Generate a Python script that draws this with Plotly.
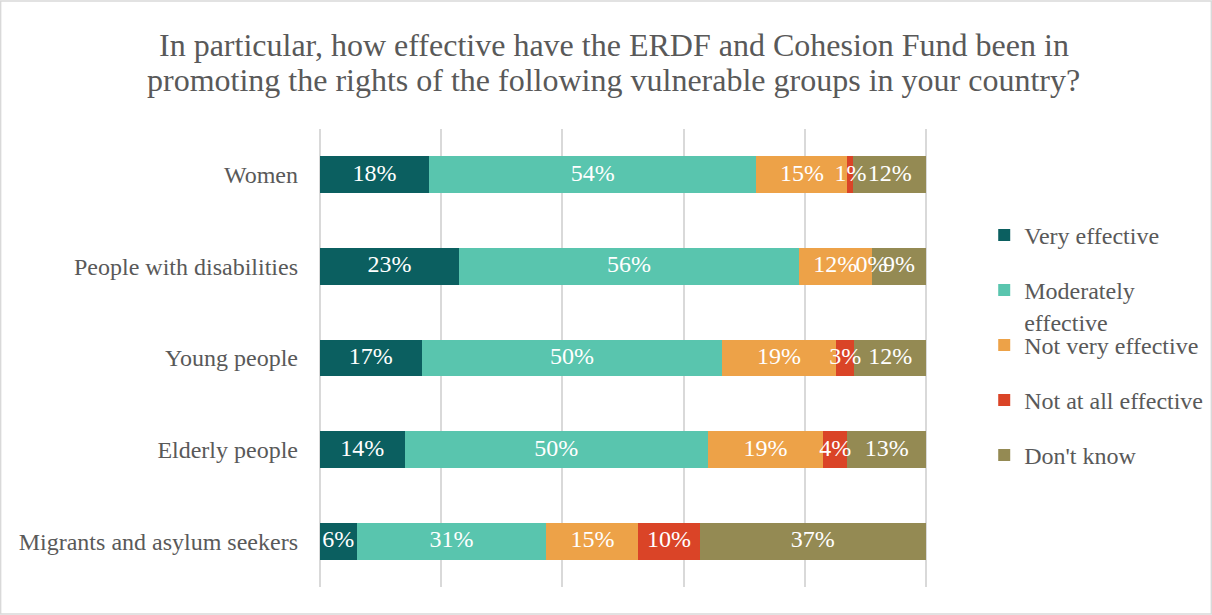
import plotly.graph_objects as go

groups = ["Women", "People with disabilities", "Young people",
          "Elderly people", "Migrants and asylum seekers"]

very_effective = [18, 23, 17, 14, 6]
moderately_effective = [54, 56, 50, 50, 31]
not_very_effective = [15, 12, 19, 19, 15]
not_at_all_effective = [1, 0, 3, 4, 10]
dont_know = [12, 9, 12, 13, 37]

series = [
    ("Very effective", very_effective, "#0B5F60"),
    ("Moderately<br>effective", moderately_effective, "#59C5AE"),
    ("Not very effective", not_very_effective, "#EDA248"),
    ("Not at all effective", not_at_all_effective, "#DA4427"),
    ("Don't know", dont_know, "#948A53"),
]

FONT = "Liberation Serif, Times New Roman, serif"
GREY = "#595959"
FS = 24

# pixel layout of the reference (plot area 320..926 maps 0..100 %)
W, H = 1212, 615
PAD = 0.3
x0px, x1px = 320, 926
upx = (x1px - x0px) / 100
L = x0px - PAD * upx
R = W - (x1px + PAD * upx)
T, B = 129, 28
pw, ph = W - L - R, H - T - B

def px_x(p):
    return (p - L) / pw

def px_y(p):
    return (H - B - p) / ph

legend_tops = [213, 268, 323, 378, 433]

fig = go.Figure()
for i, (name, vals, col) in enumerate(series):
    lg = "legend" if i == 0 else f"legend{i + 1}"
    fig.add_trace(go.Bar(
        y=groups, x=vals, name=name, orientation="h",
        marker=dict(color=col, line=dict(width=0)),
        hoverinfo="x+y", legend=lg,
    ))

# labels drawn on top of all bars, centred on each (normalised) segment
totals = [sum(s[1][j] for s in series) for j in range(len(groups))]
lab_x, lab_y, lab_t = [], [], []
for j, g in enumerate(groups):
    cum = 0.0
    for name, vals, col in series:
        v = vals[j] * 100 / totals[j]
        lab_x.append(cum + v / 2)
        lab_y.append(g)
        lab_t.append(f"{vals[j]}%")
        cum += v
fig.add_trace(go.Scatter(
    x=lab_x, y=lab_y, text=lab_t, mode="text", showlegend=False,
    hoverinfo="skip", cliponaxis=False,
    textfont=dict(family=FONT, size=FS, color="white"),
))

layout_legends = {}
for i, top in enumerate(legend_tops):
    key = "legend" if i == 0 else f"legend{i + 1}"
    layout_legends[key] = dict(
        x=px_x(984), y=px_y(top), xanchor="left", yanchor="top",
        bgcolor="rgba(0,0,0,0)", valign="top",
        font=dict(family=FONT, size=FS, color=GREY),
    )

title_lines = [
    "In particular, how effective have the ERDF and Cohesion Fund been in",
    "promoting the rights of the following vulnerable groups in your country?",
]
title_y = [45, 80]

fig.update_layout(
    width=W, height=H, showlegend=True,
    barmode="stack", barnorm="percent", bargap=0.6,
    paper_bgcolor="white", plot_bgcolor="white",
    margin=dict(l=L, r=R, t=T, b=B, autoexpand=False),
    annotations=[dict(text=t, xref="paper", yref="paper",
                      x=px_x(W / 2 + 8), y=px_y(yy), xanchor="center",
                      yanchor="middle", showarrow=False,
                      font=dict(family=FONT, size=32, color=GREY))
                 for t, yy in zip(title_lines, title_y)],
    xaxis=dict(range=[-PAD, 100 + PAD], tickvals=[0, 20, 40, 60, 80, 100],
               showticklabels=False,
               showgrid=True, gridcolor="#D9D9D9", gridwidth=2,
               zeroline=False, showline=False, fixedrange=True),
    yaxis=dict(autorange="reversed", showgrid=False, zeroline=False,
               showline=False, ticks="", ticklabelstandoff=19,
               tickfont=dict(family=FONT, size=FS, color=GREY)),
    shapes=[dict(type="rect", xref="paper", yref="paper",
                 x0=px_x(1), x1=px_x(W - 1), y0=px_y(H - 1), y1=px_y(1),
                 line=dict(color="#D9D9D9", width=1.5), layer="below")],
    **layout_legends,
)

fig.write_html("out.html", config={"displayModeBar": False},
               post_script="document.body.style.margin='0';")
